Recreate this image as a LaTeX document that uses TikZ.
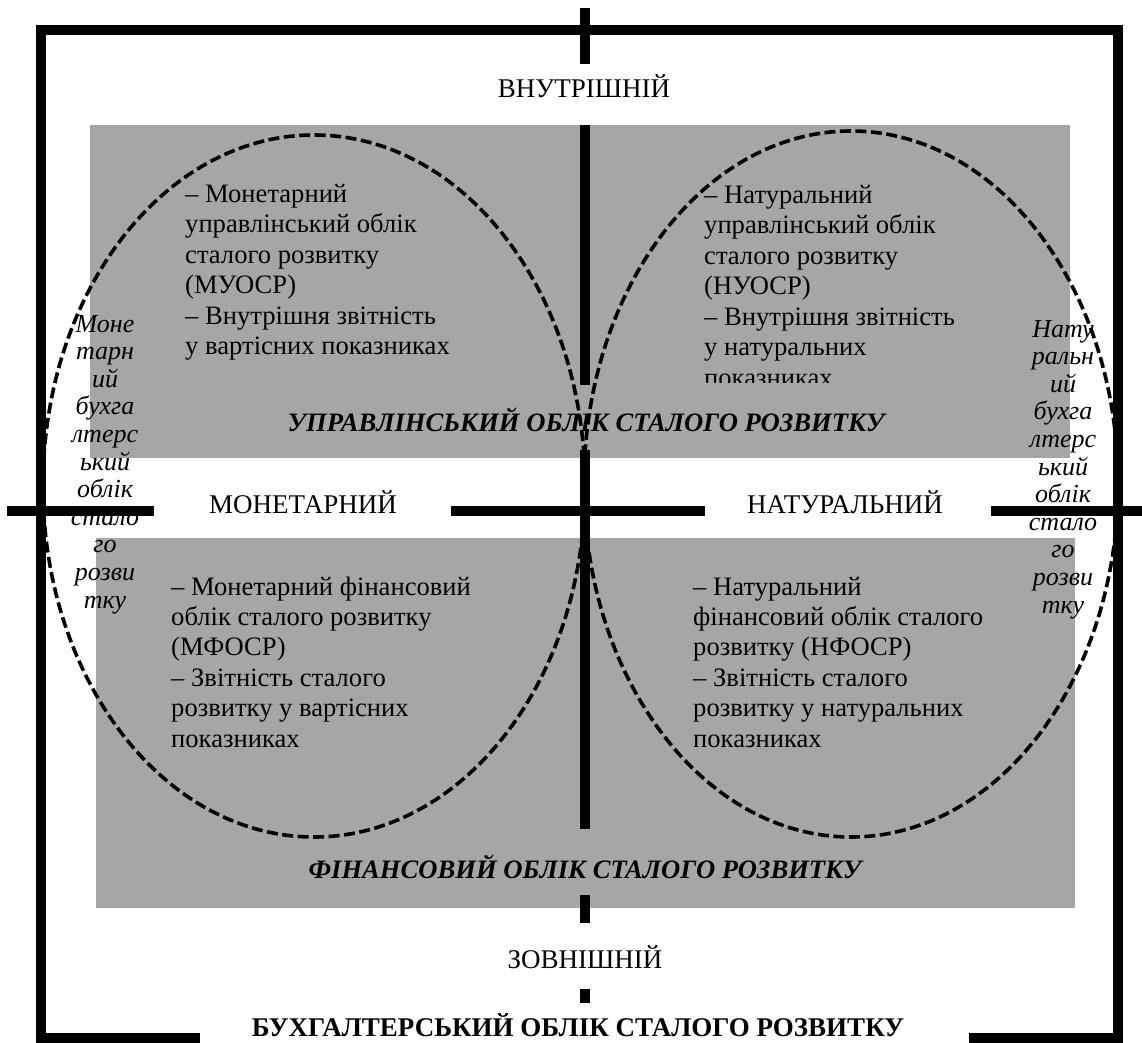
\documentclass[tikz,border=0pt]{standalone}
\usepackage{fontspec}
\setmainfont{Liberation Serif}
\definecolor{boxgray}{RGB}{166,166,166}
\begin{document}
\begin{tikzpicture}[x=1pt,y=-1pt,
  frameline/.style={line width=10pt},
  axisline/.style={line width=10pt},
  oval/.style={dash pattern=on 11pt off 4.5pt, line width=3.6pt},
  quad/.style={inner sep=0pt, anchor=base west, font=\fontsize{26.6}{30.5}\selectfont},
  quadlow/.style={inner sep=0pt, anchor=base west, font=\fontsize{26.6}{30.4}\selectfont},
  col/.style={inner sep=0pt, anchor=base, font=\fontsize{26}{27.6}\selectfont\itshape},
  lbl/.style={inner sep=0pt, anchor=base, font=\fontsize{27}{30}\selectfont},
  ttl/.style={inner sep=0pt, anchor=base, font=\fontsize{26.6}{30}\selectfont\bfseries\itshape},
  btl/.style={inner sep=0pt, anchor=base, font=\fontsize{27}{30}\selectfont\bfseries},
]
\useasboundingbox (0,0) rectangle (1142,1043);
\fill[white] (0,0) rectangle (1142,1043);
% gray panels
\fill[boxgray] (90,125) rectangle (1070,458);
\fill[boxgray] (96,538) rectangle (1075,908);
% dashed ovals
\draw[oval] (314,486) ellipse [x radius=271, y radius=351];
\draw[oval] (851,484) ellipse [x radius=267, y radius=353];
% quadrant texts
\node[quad] (ul) at (185,202) {\vtop{\hbox{– Монетарний}\hbox{управлінський облік}\hbox{сталого розвитку}\hbox{(МУОСР)}\hbox{– Внутрішня звітність}\hbox{у вартісних показниках}}};
\begin{scope}
\clip (600,125) rectangle (1070,382);
\node[quad] (ur) at (704,203) {\vtop{\hbox{– Натуральний}\hbox{управлінський облік}\hbox{сталого розвитку}\hbox{(НУОСР)}\hbox{– Внутрішня звітність}\hbox{у натуральних}\hbox{показниках}}};
\end{scope}
\node[quadlow] (ll) at (171,595) {\vtop{\hbox{– Монетарний фінансовий}\hbox{облік сталого розвитку}\hbox{(МФОСР)}\hbox{– Звітність сталого}\hbox{розвитку у вартісних}\hbox{показниках}}};
\node[quadlow] (lr) at (693,595) {\vtop{\hbox{– Натуральний}\hbox{фінансовий облік сталого}\hbox{розвитку (НФОСР)}\hbox{– Звітність сталого}\hbox{розвитку у натуральних}\hbox{показниках}}};
% titles
\node[ttl] (mgmt) at (586,431) {УПРАВЛІНСЬКИЙ ОБЛІК СТАЛОГО РОЗВИТКУ};
\node[ttl] (fin) at (585,878) {ФІНАНСОВИЙ ОБЛІК СТАЛОГО РОЗВИТКУ};
% axis labels
\node[lbl] (inner) at (584,98) {ВНУТРІШНІЙ};
\node[lbl] (outer) at (585,968) {ЗОВНІШНІЙ};
\node[lbl] (mon) at (303,513) {МОНЕТАРНИЙ};
\node[lbl] (nat) at (845,513) {НАТУРАЛЬНИЙ};
\node[btl] (whole) at (578,1036) {БУХГАЛТЕРСЬКИЙ ОБЛІК СТАЛОГО РОЗВИТКУ};
% side columns
\node[col] (lcol) at (105,332) {\vtop{\hbox to 0pt{\hss Моне\hss}\hbox to 0pt{\hss тарн\hss}\hbox to 0pt{\hss ий\hss}\hbox to 0pt{\hss бухга\hss}\hbox to 0pt{\hss лтерс\hss}\hbox to 0pt{\hss ький\hss}\hbox to 0pt{\hss облік\hss}\hbox to 0pt{\hss стало\hss}\hbox to 0pt{\hss го\hss}\hbox to 0pt{\hss розви\hss}\hbox to 0pt{\hss тку\hss}}};
\node[col] (rcol) at (1063,337) {\vtop{\hbox to 0pt{\hss Нату\hss}\hbox to 0pt{\hss ральн\hss}\hbox to 0pt{\hss ий\hss}\hbox to 0pt{\hss бухга\hss}\hbox to 0pt{\hss лтерс\hss}\hbox to 0pt{\hss ький\hss}\hbox to 0pt{\hss облік\hss}\hbox to 0pt{\hss стало\hss}\hbox to 0pt{\hss го\hss}\hbox to 0pt{\hss розви\hss}\hbox to 0pt{\hss тку\hss}}};
% outer frame
\draw[frameline] (36,30) -- (1123,30);
\draw[frameline] (41,25) -- (41,1043);
\draw[frameline] (1118,25) -- (1118,1043);
\draw[frameline] (36,1038) -- (200,1038);
\draw[frameline] (969,1038) -- (1123,1038);
% vertical axis
\draw[axisline] (585,8) -- (585,64);
\draw[axisline] (585,125) -- (585,385);
\draw[axisline] (585,450) -- (585,829);
\draw[axisline] (585,895) -- (585,923);
\draw[axisline] (585,989) -- (585,1003);
% horizontal axis
\draw[axisline] (7,511) -- (154,511);
\draw[axisline] (451,511) -- (705,511);
\draw[axisline] (991,511) -- (1142,511);
\end{tikzpicture}
\end{document}
